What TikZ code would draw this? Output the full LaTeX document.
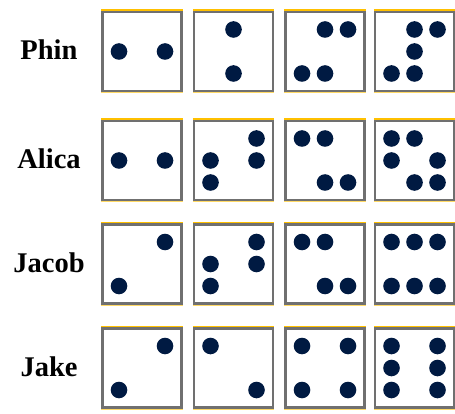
\documentclass[tikz,border=0pt]{standalone}
\usepackage{fontspec}
\setmainfont{Liberation Serif}
\usepackage{tikz}
\usetikzlibrary{positioning}
\definecolor{dotnavy}{RGB}{0,26,66}
\definecolor{rimgold}{RGB}{255,192,0}
\definecolor{edgegray}{RGB}{112,112,112}
\tikzset{
  who/.style ={anchor=base, font=\fontsize{28.5}{30}\selectfont\bfseries, inner sep=0pt},
  die/.style ={rectangle, draw=edgegray, line width=2.2pt, fill=white,
               minimum width=79pt, minimum height=79pt, inner sep=0pt},
  rim/.style ={draw=rimgold, line width=1.4pt},
  pip/.style ={fill=dotnavy}
}
% pips of one die: list of column/row offsets
\def\pips#1#2{\foreach \i/\j in {#2}{\fill[pip] ([shift={(23*\i,22*\j)}]#1.center) circle (8.3);}}

\begin{document}
\begin{tikzpicture}[x=1pt,y=-1pt]
\useasboundingbox (0,0) rectangle (455,414);
\foreach \y/\name in {51.5/Phin, 160.5/Alica, 264/Jacob, 368/Jake}{
  \node[who] (\name) at (49,\y+8) {\name};
  \foreach \x [count=\k] in {142,233.5,325,414.5}{
    \node[die] (\name-\k) at (\x,\y) {};
    \draw[rim] ([yshift=0.7pt]\name-\k.north west) -- ([yshift=0.7pt]\name-\k.north east);
    \draw[rim, draw=rimgold!60] ([yshift=-0.7pt]\name-\k.south west) -- ([yshift=-0.7pt]\name-\k.south east);
  }
}
% Phin
\pips{Phin-1}{-1/0, 1/0}
\pips{Phin-2}{0/-1, 0/1}
\pips{Phin-3}{0/-1, 1/-1, -1/1, 0/1}
\pips{Phin-4}{0/-1, 1/-1, 0/0, -1/1, 0/1}
% Alica
\pips{Alica-1}{-1/0, 1/0}
\pips{Alica-2}{1/-1, -1/0, 1/0, -1/1}
\pips{Alica-3}{-1/-1, 0/-1, 0/1, 1/1}
\pips{Alica-4}{-1/-1, 0/-1, -1/0, 1/0, 0/1, 1/1}
% Jacob
\pips{Jacob-1}{1/-1, -1/1}
\pips{Jacob-2}{1/-1, -1/0, 1/0, -1/1}
\pips{Jacob-3}{-1/-1, 0/-1, 0/1, 1/1}
\pips{Jacob-4}{-1/-1, 0/-1, 1/-1, -1/1, 0/1, 1/1}
% Jake
\pips{Jake-1}{1/-1, -1/1}
\pips{Jake-2}{-1/-1, 1/1}
\pips{Jake-3}{-1/-1, 1/-1, -1/1, 1/1}
\pips{Jake-4}{-1/-1, 1/-1, -1/0, 1/0, -1/1, 1/1}
\end{tikzpicture}
\end{document}
